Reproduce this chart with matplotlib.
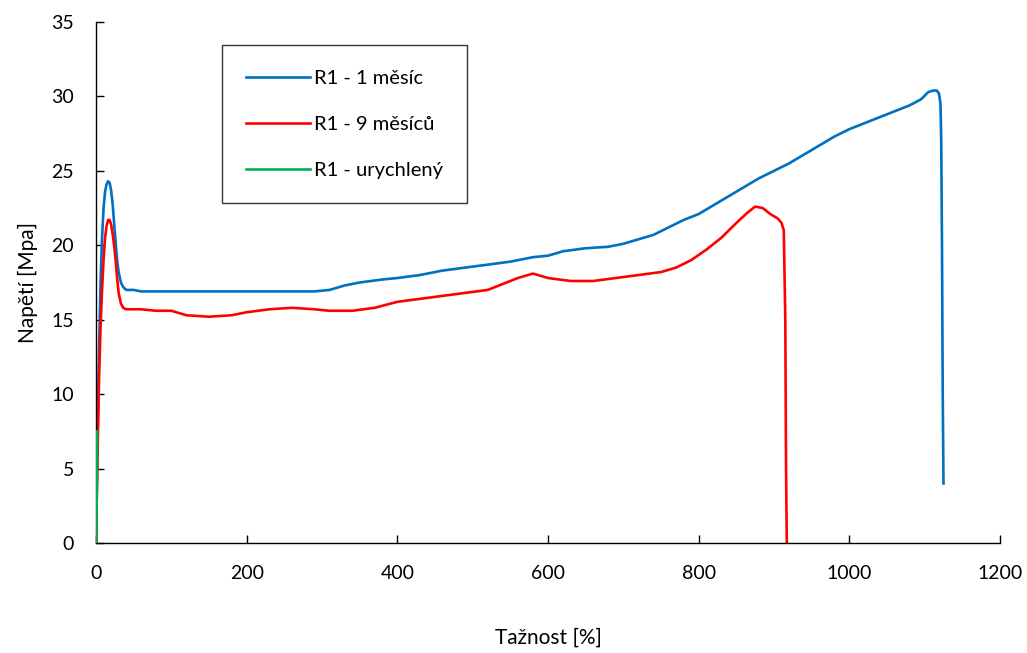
import matplotlib
matplotlib.use("Agg")
import matplotlib.pyplot as plt

plt.rcParams['font.family'] = ['Lato', 'DejaVu Sans']

# R1 - 1 mesic
x_1m = [0, 2, 4, 6, 8, 10, 12, 14, 16, 18, 20, 22, 24, 26, 28, 30, 33, 36, 40, 45, 50,
        60, 80, 100, 120, 150, 180, 200, 230, 260, 290, 310, 330, 350, 380, 400, 430,
        460, 490, 520, 550, 580, 600, 620, 650, 680, 700, 720, 740, 760, 780, 800, 820,
        840, 860, 880, 900, 920, 940, 960, 980, 1000, 1020, 1040, 1060, 1080, 1095,
        1105, 1112, 1116, 1119, 1121, 1122, 1123, 1124, 1125]
y_1m = [0, 7, 13, 17.5, 20.5, 22.5, 23.6, 24.1, 24.3, 24.2, 23.7, 22.8, 21.5, 20.2,
        19.0, 18.2, 17.5, 17.2, 17.0, 17.0, 17.0, 16.9, 16.9, 16.9, 16.9, 16.9, 16.9,
        16.9, 16.9, 16.9, 16.9, 17.0, 17.3, 17.5, 17.7, 17.8, 18.0, 18.3, 18.5, 18.7,
        18.9, 19.2, 19.3, 19.6, 19.8, 19.9, 20.1, 20.4, 20.7, 21.2, 21.7, 22.1, 22.7,
        23.3, 23.9, 24.5, 25.0, 25.5, 26.1, 26.7, 27.3, 27.8, 28.2, 28.6, 29.0, 29.4,
        29.8, 30.3, 30.4, 30.4, 30.2, 29.5, 27.0, 20.0, 10.0, 4.0]

# R1 - 9 mesicu
x_9m = [0, 2, 4, 6, 8, 10, 12, 14, 16, 18, 20, 22, 24, 26, 28, 30, 33, 36, 40, 45, 50,
        60, 80, 100, 120, 150, 180, 200, 230, 260, 290, 310, 340, 370, 400, 430, 460,
        490, 520, 540, 560, 580, 600, 630, 660, 690, 720, 750, 770, 790, 810, 830, 850,
        865, 875, 885, 895, 905, 910, 913, 915, 916, 917]
y_9m = [0, 6, 11, 14.5, 17, 19, 20.5, 21.3, 21.7, 21.7, 21.4, 20.8, 20.0, 19.0, 17.8,
        16.8, 16.1, 15.8, 15.7, 15.7, 15.7, 15.7, 15.6, 15.6, 15.3, 15.2, 15.3, 15.5,
        15.7, 15.8, 15.7, 15.6, 15.6, 15.8, 16.2, 16.4, 16.6, 16.8, 17.0, 17.4, 17.8,
        18.1, 17.8, 17.6, 17.6, 17.8, 18.0, 18.2, 18.5, 19.0, 19.7, 20.5, 21.5, 22.2,
        22.6, 22.5, 22.1, 21.8, 21.5, 21.0, 15.0, 5.0, 0]

# R1 - urychleny
x_ur = [0, 0.6, 1.0, 1.2, 1.4]
y_ur = [0, 1.0, 3.5, 5.5, 7.5]

x_ticks = [0, 200, 400, 600, 800, 1000, 1200]
y_ticks = [0, 5, 10, 15, 20, 25, 30, 35]

fig = plt.figure(figsize=(10.27, 6.53), dpi=100)
ax = fig.add_axes([0.0935, 0.1685, 0.8802, 0.7978])

ax.plot(x_1m, y_1m, color='#0070C0', lw=1.9, label='R1 - 1 měsíc')
ax.plot(x_9m, y_9m, color='#FF0000', lw=1.9, label='R1 - 9 měsíců')
ax.plot(x_ur, y_ur, color='#00B050', lw=1.9, label='R1 - urychlený', zorder=5)

ax.set_xlim(0, 1200)
ax.set_ylim(0, 35)
ax.set_xticks(x_ticks)
ax.set_yticks(y_ticks)
ax.tick_params(direction='in', length=6, width=1, labelsize=14, pad=16)
for s in ['top', 'right']:
    ax.spines[s].set_visible(False)
for s in ['left', 'bottom']:
    ax.spines[s].set_linewidth(1.0)

ax.set_xlabel('Tažnost [%]', fontsize=15, labelpad=33)
ax.set_ylabel('Napětí [Mpa]', fontsize=15)
ax.yaxis.set_label_coords(-0.064, 0.5)

leg = ax.legend(loc='upper left', bbox_to_anchor=(0.139, 0.955), fontsize=14.5,
                frameon=True, fancybox=False, edgecolor='black', handlelength=3.2,
                labelspacing=1.45, borderpad=1.2, handletextpad=0.2, borderaxespad=0)
leg.get_frame().set_linewidth(1.0)

plt.savefig('out.png', dpi=100)
